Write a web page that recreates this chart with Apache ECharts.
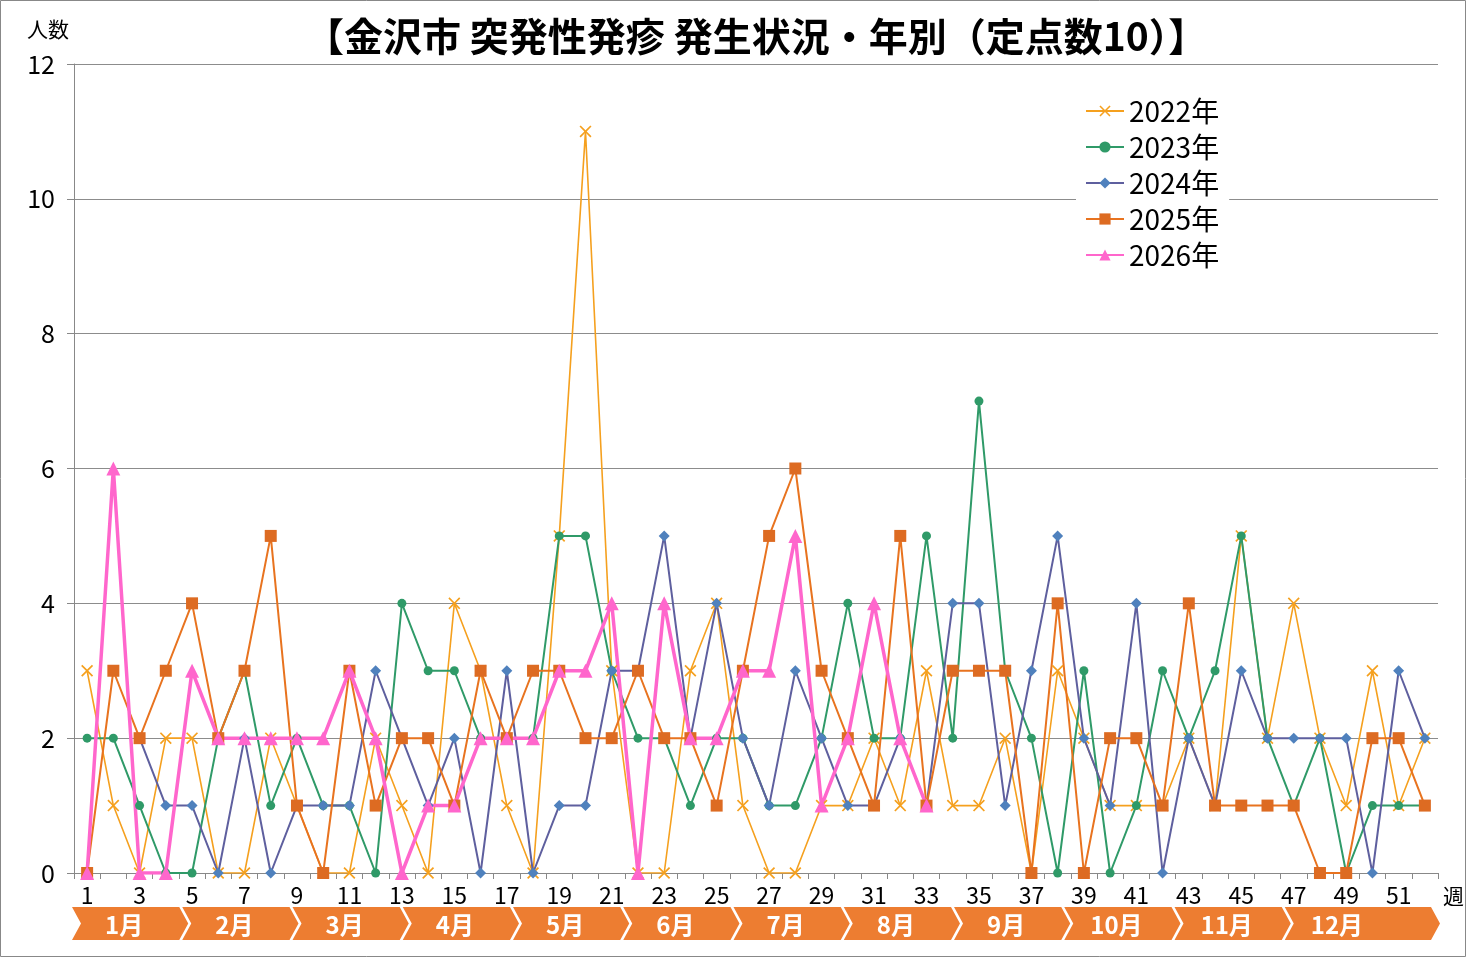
<!DOCTYPE html>
<html>
<head>
<meta charset="utf-8">
<script src="https://cdn.jsdelivr.net/npm/echarts@6/dist/echarts.min.js"></script>
<style>
  html, body { margin: 0; padding: 0; background: #fff; }
  #chart { width: 1466px; height: 957px; }
</style>
</head>
<body>
<div id="chart"></div>
<script>
// データ（週別の報告数）
var weeks = [];
for (var w = 1; w <= 52; w++) weeks.push(String(w));

var months = ["1月", "2月", "3月", "4月", "5月", "6月", "7月", "8月", "9月", "10月", "11月", "12月"];

var yearNames = ["2022年", "2023年", "2024年", "2025年", "2026年"];

var y2022 = [3, 1, 0, 2, 2, 0, 0, 2, 1, 0, 0, 2, 1, 0, 4, 3, 1, 0, 5, 11, 3, 0, 0, 3, 4, 1,
             0, 0, 1, 1, 2, 1, 3, 1, 1, 2, 0, 3, 2, 1, 1, 1, 2, 1, 5, 2, 4, 2, 1, 3, 1, 2];
var y2023 = [2, 2, 1, 0, 0, 2, 3, 1, 2, 1, 1, 0, 4, 3, 3, 2, 2, 2, 5, 5, 3, 2, 2, 1, 2, 2,
             1, 1, 2, 4, 2, 2, 5, 2, 7, 3, 2, 0, 3, 0, 1, 3, 2, 3, 5, 2, 1, 2, 0, 1, 1, 1];
var y2024 = [null, null, 2, 1, 1, 0, 2, 0, 1, 1, 1, 3, 2, 1, 2, 0, 3, 0, 1, 1, 3, 3, 5, 2, 4, 2,
             1, 3, 2, 1, 1, 2, 1, 4, 4, 1, 3, 5, 2, 1, 4, 0, 2, 1, 3, 2, 2, 2, 2, 0, 3, 2];
var y2025 = [0, 3, 2, 3, 4, 2, 3, 5, 1, 0, 3, 1, 2, 2, 1, 3, 2, 3, 3, 2, 2, 3, 2, 2, 1, 3,
             5, 6, 3, 2, 1, 5, 1, 3, 3, 3, 0, 4, 0, 2, 2, 1, 4, 1, 1, 1, 1, 0, 0, 2, 2, 1];
var y2026 = [0, 6, 0, 0, 3, 2, 2, 2, 2, 2, 3, 2, 0, 1, 1, 2, 2, 2, 3, 3, 4, 0, 4, 2, 2, 3,
             3, 5, 1, 2, 4, 2, 1];

var FONT = '"Noto Sans CJK JP", "Noto Sans", sans-serif';
var BANNER_END = 1434; // 12月の矢印だけ右端まで伸ばす
var crossPath = "path://M0,1L1,0L5,4L9,0L10,1L6,5L10,9L9,10L5,6L1,10L0,9L4,5Z";

var myChart = echarts.init(document.getElementById("chart"));

function lineSeries(name, data, lineColor, markColor, symbol, size, width) {
  return {
    name: name,
    type: "line",
    data: data,
    xAxisIndex: 0,
    yAxisIndex: 0,
    symbol: symbol,
    symbolSize: size,
    showAllSymbol: true,
    connectNulls: false,
    animation: false,
    lineStyle: { color: lineColor, width: width },
    itemStyle: { color: markColor },
    emphasis: { disabled: true }
  };
}

var option = {
  backgroundColor: "#fff",
  textStyle: { fontFamily: FONT },
  title: [
    {
      text: "【金沢市 突発性発疹 発生状況・年別（定点数10）】",
      left: 300,
      top: 12,
      textStyle: { fontSize: 39, fontWeight: "bold", color: "#000", fontFamily: FONT }
    },
    {
      text: "人数",
      left: 22,
      top: 14,
      textStyle: { fontSize: 21, fontWeight: "normal", color: "#000", fontFamily: FONT }
    },
    {
      text: "週",
      left: 1438,
      top: 881,
      textStyle: { fontSize: 21, fontWeight: "normal", color: "#000", fontFamily: FONT }
    }
  ],
  legend: {
    data: yearNames,
    orient: "vertical",
    left: 1076,
    top: 91,
    padding: [6, 10, 6, 9],
    backgroundColor: "#fff",
    itemWidth: 38,
    itemHeight: 14,
    itemGap: 8,
    textStyle: { fontSize: 28, color: "#000", fontFamily: FONT },
    selectedMode: false
  },
  grid: [
    { left: 74, right: 28, top: 64, bottom: 84 },
    { left: 72, width: 1323, top: 907, height: 33 }
  ],
  xAxis: [
    {
      type: "category",
      gridIndex: 0,
      data: weeks,
      boundaryGap: true,
      axisLine: { lineStyle: { color: "#888", width: 1 } },
      axisTick: { show: true, interval: 0, length: 6, lineStyle: { color: "#888" } },
      axisLabel: { interval: 1, fontSize: 23, color: "#000", margin: 11, fontFamily: FONT },
      splitLine: { show: false }
    },
    { type: "value", gridIndex: 1, min: 0, max: 12, show: false }
  ],
  yAxis: [
    {
      type: "value",
      gridIndex: 0,
      min: 0,
      max: 12,
      interval: 2,
      axisLine: { show: true, lineStyle: { color: "#888", width: 1 } },
      axisTick: { show: true, length: 7, lineStyle: { color: "#888" } },
      axisLabel: { fontSize: 25, color: "#000", margin: 19, fontFamily: FONT },
      splitLine: { lineStyle: { color: "#8c8c8c", width: 1 } }
    },
    { type: "value", gridIndex: 1, min: 0, max: 1, show: false }
  ],
  graphic: [
    {
      type: "rect",
      silent: true,
      shape: { x: 0.5, y: 0.5, width: 1465, height: 956 },
      style: { fill: null, stroke: "#888", lineWidth: 1 }
    }
  ],
  series: [
    lineSeries("2022年", y2022, "#F5A01E", "#F5A01E", crossPath, 12, 1.6),
    lineSeries("2023年", y2023, "#2F9A68", "#2F9A68", "circle", 9, 2),
    lineSeries("2024年", y2024, "#5E5F9E", "#4F81BD", "diamond", 11, 2),
    lineSeries("2025年", y2025, "#E8731F", "#DD6B22", "rect", 12, 2),
    lineSeries("2026年", y2026, "#FF66CC", "#FF66CC", "triangle", 14, 3.5),
    {
      // 月の矢印バナー
      type: "custom",
      xAxisIndex: 1,
      yAxisIndex: 1,
      silent: true,
      animation: false,
      data: months.map(function (m, i) { return [i, 0]; }),
      renderItem: function (params, api) {
        var i = params.dataIndex;
        var cs = params.coordSys;
        var x0 = api.coord([i, 0])[0];
        var x1 = i === months.length - 1 ? BANNER_END : api.coord([i + 1, 0])[0];
        var std = api.coord([1, 0])[0] - api.coord([0, 0])[0];
        var top = cs.y, bot = cs.y + cs.height, mid = cs.y + cs.height / 2;
        var d = 9, g = 3;
        var pts = [
          [x0, top], [x1 - g, top], [x1 - g + d, mid],
          [x1 - g, bot], [x0, bot], [x0 + d, mid]
        ];
        return {
          type: "group",
          children: [
            { type: "polygon", shape: { points: pts }, style: { fill: "#ED7D31" } },
            {
              type: "text",
              style: {
                text: months[i],
                x: x0 + std / 2 - 3,
                y: mid + 1,
                align: "center",
                verticalAlign: "middle",
                fill: "#fff",
                fontSize: 24,
                fontWeight: "bold",
                fontFamily: FONT
              }
            }
          ]
        };
      }
    }
  ]
};

myChart.setOption(option);
</script>
</body>
</html>
